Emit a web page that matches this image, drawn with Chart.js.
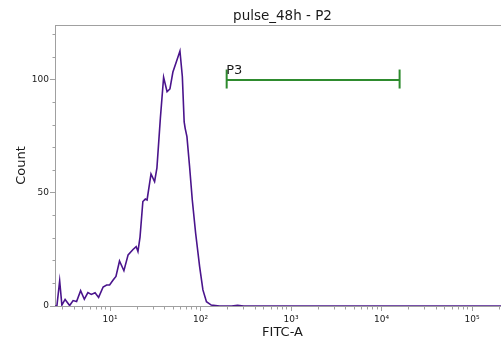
<!DOCTYPE html>
<html>
<head>
<meta charset="utf-8">
<script src="https://cdn.jsdelivr.net/npm/chart.js@4"></script>
<style>
  html, body { margin: 0; padding: 0; background: #ffffff; overflow: hidden; }
  #wrap { width: 501px; height: 339px; overflow: hidden; position: relative; }
  canvas { display: block; }
</style>
</head>
<body>
<div id="wrap"><canvas id="c" width="510" height="339"></canvas></div>
<script>
// ---- data ----
const fitcValues = [2.46, 2.58, 2.77, 2.93, 3.18, 3.57, 3.90, 4.26, 4.72, 5.19,
  5.68, 6.20, 6.82, 7.46, 8.37, 9.15, 9.87, 10.8, 11.6, 12.7,
  14.2, 15.8, 17.9, 19.4, 20.3, 21.4, 23.0, 24.5, 25.6, 28.3,
  31.0, 32.9, 35.9, 39.0, 42.6, 45.8, 49.4, 54.3, 59.1, 62.8,
  65.8, 67.5, 70.6, 75.5, 80.9, 88.1, 97.5, 106, 116, 131,
  162, 220, 256, 299, 1000, 10000, 262144];
const counts = [0, 0, 11.1, 0.4, 2.9, 0.2, 2.4, 2.0, 6.8, 3.0,
  5.9, 5.1, 5.9, 3.8, 8.4, 9.3, 9.3, 11.5, 13.1, 19.9,
  15.6, 22.6, 25.0, 26.3, 24.1, 30.5, 46.2, 47.3, 46.9, 58.4,
  55.0, 61.1, 83.0, 101.2, 94.8, 96.0, 103.5, 108.4, 112.8, 101.5,
  81.4, 78.6, 74.9, 61.7, 46.9, 32.2, 17.4, 7.1, 1.9, 0.4,
  0, 0, 0.3, 0, 0, 0, 0];

const gateName = 'P3';
const gateRange = [194, 15800];
const gateLevel = 100;
const gateCap = [96.2, 104.6];

const xRange = [2.46, 262144];
const yRange = [0, 124.3];
const xMajorTicks = [10, 100, 1000, 10000, 100000];
const xTickLabels = ['10\u00B9', '10\u00B2', '10\u00B3', '10\u2074', '10\u2075'];
const yTicks = [0, 10, 20, 30, 40, 50, 60, 70, 80, 90, 100, 110, 120];
const yLabelTicks = [0, 50, 100];

const chartTitle = 'pulse_48h - P2';
const xTitle = 'FITC-A';
const yTitle = 'Count';

// ---- build ----
const histData = fitcValues.map((v, i) => ({ x: v, y: counts[i] }));
const gateLine = gateRange.map(v => ({ x: v, y: gateLevel }));
const gateCapL = gateCap.map(c => ({ x: gateRange[0], y: c }));
const gateCapR = gateCap.map(c => ({ x: gateRange[1], y: c }));

const xMinorTicks = [];
for (let e = 0; e <= 5; e++) {
  for (let m = 1; m <= 9; m++) {
    const v = m * Math.pow(10, e);
    if (v >= xRange[0] && v <= xRange[1]) xMinorTicks.push(v);
  }
}

const AXIS = '#a0a0a0';
const TXT = '#1a1a1a';
const PURPLE = '#4a148c';
const GREEN = '#2e8b2e';

const framePlugin = {
  id: 'frame',
  beforeDatasetsDraw(chart) {
    const { ctx, chartArea } = chart;
    ctx.save();
    ctx.strokeStyle = AXIS;
    ctx.lineWidth = 1;
    ctx.beginPath();
    const y = Math.round(chartArea.top) + 0.5;
    ctx.moveTo(chartArea.left, y);
    ctx.lineTo(chartArea.right, y);
    ctx.stroke();
    ctx.restore();
  },
  afterDatasetsDraw(chart) {
    const { ctx, scales } = chart;
    ctx.save();
    ctx.fillStyle = TXT;
    ctx.font = '13px "DejaVu Sans"';
    ctx.textAlign = 'left';
    ctx.textBaseline = 'alphabetic';
    const px = scales.x.getPixelForValue(gateRange[0]);
    const py = scales.y.getPixelForValue(gateLevel);
    ctx.fillText(gateName, px - 0.5, py - 5.5);
    ctx.restore();
  }
};

new Chart(document.getElementById('c'), {
  type: 'line',
  data: {
    datasets: [
      { data: histData, borderColor: PURPLE, borderWidth: 1.6, pointRadius: 0, tension: 0, fill: false },
      { data: gateLine, borderColor: GREEN, borderWidth: 2, pointRadius: 0, fill: false },
      { data: gateCapL, borderColor: GREEN, borderWidth: 2, pointRadius: 0, fill: false },
      { data: gateCapR, borderColor: GREEN, borderWidth: 2, pointRadius: 0, fill: false }
    ]
  },
  options: {
    responsive: false,
    devicePixelRatio: 1,
    animation: false,
    parsing: true,
    layout: { padding: 0 },
    plugins: {
      legend: { display: false },
      tooltip: { enabled: false },
      title: {
        display: true,
        text: chartTitle,
        fullSize: false,
        color: TXT,
        font: { family: '"DejaVu Sans"', size: 13.5, weight: 'normal', lineHeight: 1.2 },
        padding: { top: 8, bottom: 0.8 }
      }
    },
    scales: {
      x: {
        type: 'logarithmic',
        min: xRange[0],
        max: xRange[1],
        afterFit: s => { s.height = 33; },
        afterBuildTicks: s => { s.ticks = xMinorTicks.map(v => ({ value: v })); },
        border: { display: true, color: AXIS, width: 1 },
        grid: {
          drawOnChartArea: false,
          drawTicks: true,
          tickLength: 5,
          tickColor: AXIS,
          tickBorderDash: ctx => (ctx.tick && xMajorTicks.includes(ctx.tick.value)) ? [] : [2.5, 50],
          tickBorderDashOffset: 0
        },
        ticks: {
          autoSkip: false,
          maxRotation: 0,
          padding: 3.5,
          color: TXT,
          font: { family: '"DejaVu Sans"', size: 9 },
          callback: v => { const i = xMajorTicks.indexOf(v); return i >= 0 ? xTickLabels[i] : ''; }
        },
        title: {
          display: true,
          text: xTitle,
          color: TXT,
          font: { family: '"DejaVu Sans"', size: 13, lineHeight: 1 },
          padding: { top: 0, bottom: 0 }
        }
      },
      y: {
        type: 'linear',
        min: yRange[0],
        max: yRange[1],
        afterFit: s => { s.width = 55; },
        afterBuildTicks: s => { s.ticks = yTicks.map(v => ({ value: v })); },
        border: { display: true, color: AXIS, width: 1 },
        grid: {
          drawOnChartArea: false,
          drawTicks: true,
          tickLength: 5,
          tickColor: AXIS,
          tickBorderDash: ctx => (ctx.tick && yLabelTicks.includes(ctx.tick.value)) ? [] : [2.5, 50],
          tickBorderDashOffset: ctx => (ctx.tick && yLabelTicks.includes(ctx.tick.value)) ? 0 : 50
        },
        ticks: {
          autoSkip: false,
          padding: 1,
          color: TXT,
          font: { family: '"DejaVu Sans"', size: 9 },
          callback: v => yLabelTicks.includes(v) ? String(v) : ''
        },
        title: {
          display: true,
          text: yTitle,
          color: TXT,
          font: { family: '"DejaVu Sans"', size: 13, lineHeight: 1.2 },
          padding: { top: 14, bottom: 0 }
        }
      }
    }
  },
  plugins: [framePlugin]
});
</script>
</body>
</html>
